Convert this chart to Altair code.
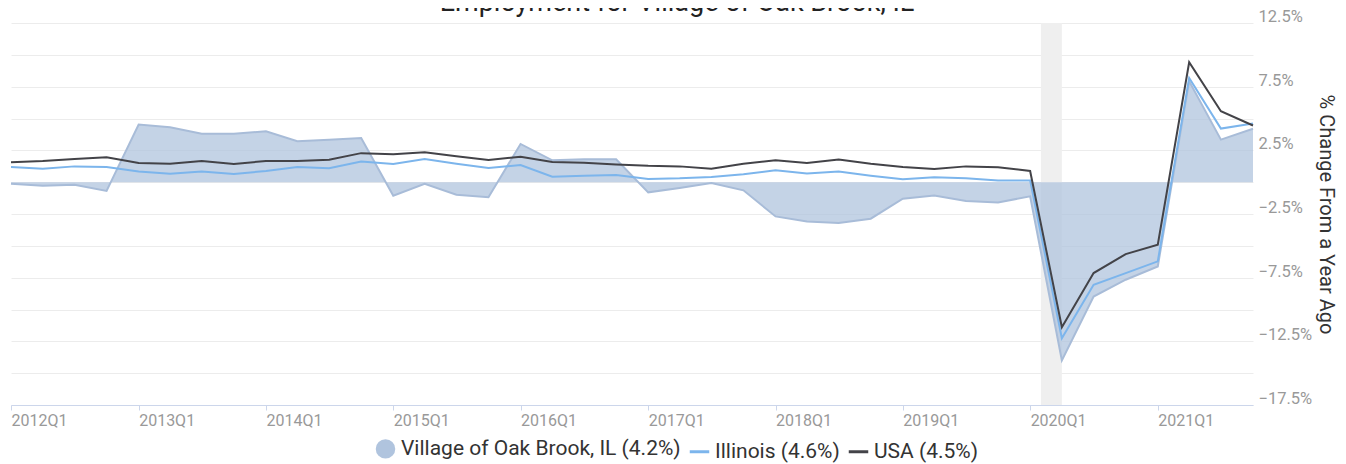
import altair as alt
import pandas as pd

# ---------------- data ----------------
title_text = "Employment for Village of Oak Brook, IL"
y_title = "% Change From a Year Ago"

years = list(range(2012, 2022))
quarters = [f"{y}Q{q}" for y in years for q in range(1, 5)]  # 2012Q1 .. 2021Q4

village = [-0.12, -0.28, -0.20, -0.69, 4.52, 4.31, 3.81, 3.81, 4.00, 3.21,
           3.34, 3.47, -1.06, -0.12, -0.98, -1.19, 3.00, 1.72, 1.80, 1.80,
           -0.80, -0.46, -0.07, -0.64, -2.69, -3.08, -3.21, -2.87, -1.30, -1.04,
           -1.48, -1.59, -1.11, -14.00, -8.98, -7.66, -6.62, 7.93, 3.34, 4.20]

illinois = [1.19, 1.06, 1.24, 1.19, 0.83, 0.67, 0.83, 0.64, 0.88, 1.19,
            1.10, 1.62, 1.43, 1.82, 1.45, 1.11, 1.35, 0.43, 0.51, 0.56,
            0.25, 0.30, 0.41, 0.62, 0.93, 0.69, 0.83, 0.51, 0.22, 0.38,
            0.30, 0.14, 0.14, -12.25, -8.06, -7.14, -6.22, 8.19, 4.21, 4.60]

usa = [1.56, 1.66, 1.82, 1.95, 1.51, 1.45, 1.66, 1.43, 1.66, 1.66,
       1.76, 2.28, 2.20, 2.35, 2.03, 1.74, 2.00, 1.59, 1.53, 1.38,
       1.28, 1.24, 1.06, 1.45, 1.72, 1.51, 1.77, 1.45, 1.19, 1.04,
       1.24, 1.17, 0.88, -11.39, -7.14, -5.65, -4.91, 9.42, 5.57, 4.45]

series_names = ["Village of Oak Brook, IL (4.2%)", "Illinois (4.6%)", "USA (4.5%)"]
series_colors = ["#b0c4de", "#7cb5ec", "#434348"]

recession_start = ["2020-02-01"]
recession_end = ["2020-04-01"]

y_ticks = [-17.5 + 2.5 * k for k in range(13)]


def q_to_date(q):
    yr, n = q.split("Q")
    return f"{yr}-{(int(n) - 1) * 3 + 1:02d}-01"


dates = [q_to_date(q) for q in quarters]

df = pd.DataFrame({"date": dates, "village": village,
                   "illinois": illinois, "usa": usa})
rec_df = pd.DataFrame({"start": recession_start, "end": recession_end,
                       "top": [y_ticks[-1]], "bottom": [y_ticks[0]]})
legend_df = pd.DataFrame({"series": series_names})

# ---------------- scales / axes ----------------
FONT = "Roboto"
x_scale = alt.Scale(type="utc", domain=[
    alt.DateTime(year=2012, month=1, date=1, utc=True),
    alt.DateTime(year=2021, month=10, date=1, utc=True)])
y_scale = alt.Scale(domain=[y_ticks[0], y_ticks[-1]], nice=False, zero=False)

x_axis = alt.Axis(
    values=[alt.DateTime(year=y, month=1, date=1, utc=True) for y in years],
    format="%YQ%q", labelAlign="left", labelFlush=False, labelOverlap=False,
    labelFont=FONT, labelFontSize=16, labelColor="#999999", labelPadding=2,
    tickSize=5, tickColor="#ccd6eb", domainColor="#ccd6eb", grid=False,
    title=None)

y_axis = alt.Axis(
    orient="right", values=y_ticks,
    labelExpr="abs((datum.value - 2.5) % 5) < 0.01 ? format(datum.value, '.1f') + '%' : ''",
    grid=True, gridColor="#ececec", gridWidth=1, domain=False, ticks=False,
    labelFont=FONT, labelFontSize=16.5, labelColor="#999999", labelPadding=5,
    labelAlign="left", labelBaseline="alphabetic", labelOffset=-1.5,
    labelOverlap=False, labelFlush=False,
    title=y_title, titleFont=FONT, titleFontSize=20, titleFontWeight="normal",
    titleColor="#333333", titleAngle=90, titleAlign="center",
    titleBaseline="middle", titleX=72, titleY=191)


def X(field):
    return alt.X(field, type="temporal", scale=x_scale, axis=x_axis)


def Y(field):
    return alt.Y(field, type="quantitative", scale=y_scale, axis=y_axis)


recession = alt.Chart(rec_df).mark_rect(color="#efefef").encode(
    x=X("start"), x2="end:T", y=Y("top"), y2="bottom:Q")

area = alt.Chart(df).mark_area(color="#b0c4de", opacity=0.75).encode(
    x=X("date"), y=Y("village"), y2=alt.datum(0))

area_line = alt.Chart(df).mark_line(color="#a8bcd8", strokeWidth=2).encode(
    x=X("date"), y=Y("village"))

il_line = alt.Chart(df).mark_line(color=series_colors[1], strokeWidth=2).encode(
    x=X("date"), y=Y("illinois"))

us_line = alt.Chart(df).mark_line(color=series_colors[2], strokeWidth=2).encode(
    x=X("date"), y=Y("usa"))

leg = alt.Legend(orient="none", legendX=363, legendY=414, direction="horizontal",
                 title=None, labelFont=FONT, labelFontSize=21, labelColor="#333333",
                 symbolSize=380, symbolStrokeWidth=3, symbolOpacity=1,
                 columnPadding=2, labelOffset=4, padding=0, labelLimit=0)

legend_layer = alt.Chart(legend_df).mark_point(filled=True, opacity=0).encode(
    fill=alt.Fill("series:N", scale=alt.Scale(domain=series_names, range=series_colors), legend=leg),
    stroke=alt.Stroke("series:N", scale=alt.Scale(domain=series_names,
                      range=["transparent", series_colors[1], series_colors[2]]), legend=leg),
    shape=alt.Shape("series:N", scale=alt.Scale(domain=series_names,
                    range=["circle", "stroke", "stroke"]), legend=leg),
)

chart = alt.layer(recession, area, area_line, il_line, us_line, legend_layer).properties(
    width=1242, height=382,
    autosize=alt.AutoSizeParams(type="none"),
    padding={"left": 3, "top": 15, "right": 85, "bottom": 59},
    title=alt.TitleParams(text=title_text, font=FONT, fontSize=27, fontWeight="normal",
                          color="#222222", anchor="middle", frame="group",
                          baseline="alphabetic", offset=9, dx=45, dy=38),
).configure_view(strokeWidth=0)

chart.save("out.html", embed_options={"renderer": "svg", "actions": False})
